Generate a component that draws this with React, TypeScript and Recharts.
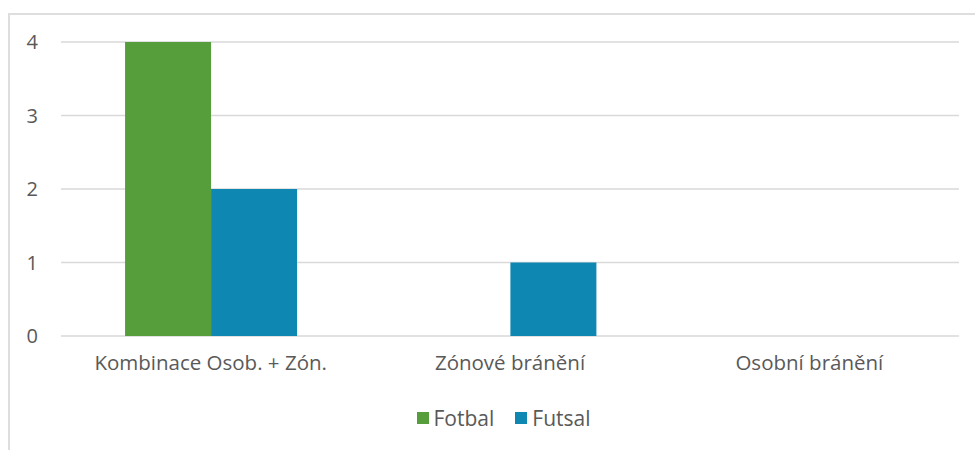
import React from "react";
import { BarChart, Bar, XAxis, YAxis, CartesianGrid, Legend } from "recharts";

const categories = ["Kombinace Osob. + Zón.", "Zónové bránění", "Osobní bránění"];
const fotbal = [4, 0, 0];
const futsal = [2, 1, 0];
const yTicks = [0, 1, 2, 3, 4];
const seriesNames = ["Fotbal", "Futsal"];
const seriesColors = ["#559e3b", "#0e88b3"];

const data = categories.map((c, i) => ({ name: c, Fotbal: fotbal[i], Futsal: futsal[i] }));

const font = "'Open Sans', sans-serif";

const LegendContent = () => (
  <div style={{ display: "flex", justifyContent: "center", alignItems: "center", paddingLeft: 48, position: "relative", top: 2, fontFamily: font, fontSize: 21, color: "#595959" }}>
    {seriesNames.map((n, i) => (
      <div key={n} style={{ display: "flex", alignItems: "center", marginRight: i === 0 ? 21 : 0 }}>
        <span style={{ display: "inline-block", width: 12, height: 12, background: seriesColors[i], marginRight: 5 }} />
        <span>{n}</span>
      </div>
    ))}
  </div>
);

export default function App() {
  return (
    <div style={{ position: "absolute", left: 0, top: 0, width: 975, height: 450, background: "#fff" }}>
      <div
        style={{
          position: "absolute",
          left: 8,
          top: 13,
          width: 975,
          height: 450,
          borderLeft: "2px solid #dedede",
          borderTop: "2px solid #dedede",
        }}
      />
      <div style={{ position: "absolute", left: 0, top: 0 }}>
        <BarChart
          width={975}
          height={450}
          data={data}
          margin={{ top: 42, right: 16, left: 0, bottom: 20 }}
          barCategoryGap="21.4%"
          barGap={0}
        >
          <CartesianGrid vertical={false} stroke="#d9d9d9" strokeWidth={1.5} />
          <XAxis
            dataKey="name"
            axisLine={false}
            tickLine={false}
            tickMargin={13}
            height={66}
            tick={{ fill: "#595959", fontSize: 20.5, fontFamily: font }}
          />
          <YAxis
            width={61}
            domain={[0, 4]}
            ticks={yTicks}
            axisLine={false}
            tickLine={false}
            tickMargin={17}
            tick={{ fill: "#595959", fontSize: 20, fontFamily: font }}
          />
          <Legend verticalAlign="bottom" content={<LegendContent />} />
          <Bar dataKey="Fotbal" fill={seriesColors[0]} isAnimationActive={false} />
          <Bar dataKey="Futsal" fill={seriesColors[1]} isAnimationActive={false} />
        </BarChart>
      </div>
    </div>
  );
}
